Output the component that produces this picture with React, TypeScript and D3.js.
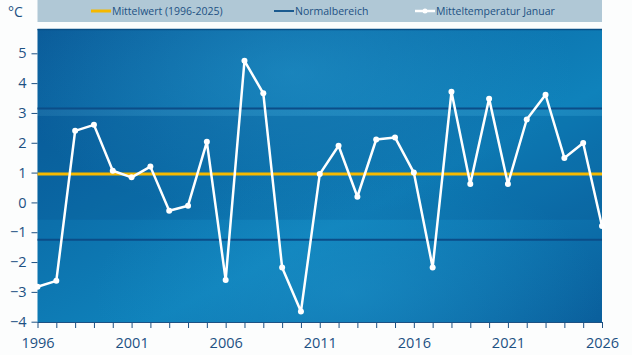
import React, { useRef, useEffect } from 'react';
import * as d3 from 'd3';

// Januar-Mitteltemperatur 1996-2026 (°C)
const years: number[] = d3.range(1996, 2027);
const tempJanuar: number[] = [
    -2.83, -2.63, 2.4, 2.6, 1.06, 0.84, 1.2, -0.28, -0.11, 2.03,
    -2.6, 4.75, 3.66, -2.18, -3.66, 0.95, 1.9, 0.19, 2.11, 2.18,
    1.0, -2.18, 3.71, 0.62, 3.48, 0.62, 2.78, 3.61, 1.49, 1.99,
    -0.79,
];
const mittelwert = 0.95;
const normalbereich: number[] = [3.15, -1.25];
const innerBand: number[] = [2.9, -0.58];
const yTicks: number[] = [-4, -3, -2, -1, 0, 1, 2, 3, 4, 5];
const xTickLabels: number[] = [1996, 2001, 2006, 2011, 2016, 2021, 2026];
const legendLabels: string[] = [
    'Mittelwert (1996-2025)',
    'Normalbereich',
    'Mitteltemperatur Januar',
];

const W = 632;
const H = 355;
const textColor = '#1d5183';

const App: React.FC = () => {
    const svgRef = useRef<SVGSVGElement | null>(null);

    useEffect(() => {
        if (!svgRef.current) return;
        const svg = d3.select(svgRef.current);
        svg.selectAll('*').remove();

        const left = 37.5;
        const right = 602;
        const top = 29;
        const bottom = 322;

        const x = d3.scaleLinear().domain([1996, 2026]).range([left, right]);
        const y = d3.scaleLinear().domain([-4, 5]).range([321.7, 53.3]);

        const defs = svg.append('defs');
        const lg = defs
            .append('linearGradient')
            .attr('id', 'bg')
            .attr('x1', '0')
            .attr('y1', '0')
            .attr('x2', '1')
            .attr('y2', '1');
        lg.append('stop').attr('offset', '0%').attr('stop-color', '#0a5a98');
        lg.append('stop').attr('offset', '35%').attr('stop-color', '#0c70ab');
        lg.append('stop').attr('offset', '60%').attr('stop-color', '#0f82bb');
        lg.append('stop').attr('offset', '100%').attr('stop-color', '#0a5f9c');

        const rg = defs
            .append('radialGradient')
            .attr('id', 'glow')
            .attr('cx', '0.45')
            .attr('cy', '0.15')
            .attr('r', '0.5');
        rg.append('stop')
            .attr('offset', '0%')
            .attr('stop-color', '#2aa0d4')
            .attr('stop-opacity', 0.45);
        rg.append('stop')
            .attr('offset', '100%')
            .attr('stop-color', '#2aa0d4')
            .attr('stop-opacity', 0);

        const rg2 = defs
            .append('radialGradient')
            .attr('id', 'glow2')
            .attr('cx', '0.55')
            .attr('cy', '0.9')
            .attr('r', '0.45');
        rg2.append('stop')
            .attr('offset', '0%')
            .attr('stop-color', '#1f95cc')
            .attr('stop-opacity', 0.5);
        rg2.append('stop')
            .attr('offset', '100%')
            .attr('stop-color', '#1f95cc')
            .attr('stop-opacity', 0);

        // legend box
        svg.append('rect')
            .attr('x', left)
            .attr('y', 0)
            .attr('width', right - left)
            .attr('height', 22)
            .attr('fill', '#b0c8d6');

        const legendX = [91, 274, 415];
        const legendSw = [
            { color: '#f5b800', w: 3, dot: false },
            { color: '#1a5a8f', w: 2, dot: false },
            { color: '#ffffff', w: 2.5, dot: true },
        ];
        legendLabels.forEach((lab, i) => {
            const g = svg.append('g');
            g.append('line')
                .attr('x1', legendX[i])
                .attr('x2', legendX[i] + 20)
                .attr('y1', 11)
                .attr('y2', 11)
                .attr('stroke', legendSw[i].color)
                .attr('stroke-width', legendSw[i].w);
            if (legendSw[i].dot) {
                g.append('circle')
                    .attr('cx', legendX[i] + 10)
                    .attr('cy', 11)
                    .attr('r', 2.5)
                    .attr('fill', '#fff');
            }
            g.append('text')
                .attr('x', legendX[i] + 21)
                .attr('y', 14.5)
                .attr('font-family', "'Open Sans', sans-serif")
                .attr('font-size', 10.5)
                .attr('fill', textColor)
                .text(lab);
        });

        svg.append('text')
            .attr('x', 8)
            .attr('y', 17)
            .attr('font-family', "'Open Sans', sans-serif")
            .attr('font-size', 14)
            .attr('fill', textColor)
            .text('°C');

        // plot background
        svg.append('rect')
            .attr('x', left)
            .attr('y', top)
            .attr('width', right - left)
            .attr('height', bottom - top)
            .attr('fill', 'url(#bg)');
        svg.append('rect')
            .attr('x', left)
            .attr('y', top)
            .attr('width', right - left)
            .attr('height', bottom - top)
            .attr('fill', 'url(#glow)');
        svg.append('rect')
            .attr('x', left)
            .attr('y', top)
            .attr('width', right - left)
            .attr('height', bottom - top)
            .attr('fill', 'url(#glow2)');
        svg.append('line')
            .attr('x1', left)
            .attr('x2', right)
            .attr('y1', top + 0.5)
            .attr('y2', top + 0.5)
            .attr('stroke', '#0a4f86')
            .attr('stroke-width', 1.5);

        // normal range shading
        svg.append('rect')
            .attr('x', left)
            .attr('y', y(normalbereich[0]))
            .attr('width', right - left)
            .attr('height', y(innerBand[0]) - y(normalbereich[0]))
            .attr('fill', '#ffffff')
            .attr('opacity', 0.05);
        svg.append('rect')
            .attr('x', left)
            .attr('y', y(innerBand[0]))
            .attr('width', right - left)
            .attr('height', y(innerBand[1]) - y(innerBand[0]))
            .attr('fill', '#003a78')
            .attr('opacity', 0.14);

        normalbereich.forEach((v) => {
            svg.append('line')
                .attr('x1', left)
                .attr('x2', right)
                .attr('y1', y(v))
                .attr('y2', y(v))
                .attr('stroke', '#0b4d88')
                .attr('stroke-width', 2);
        });

        svg.append('line')
            .attr('x1', left)
            .attr('x2', right)
            .attr('y1', y(mittelwert))
            .attr('y2', y(mittelwert))
            .attr('stroke', '#f6b900')
            .attr('stroke-width', 3);

        // axes
        const yAxis = svg
            .append('g')
            .attr('transform', `translate(${left},0)`)
            .call(
                d3
                    .axisLeft(y)
                    .tickValues(yTicks)
                    .tickSize(6)
                    .tickPadding(5)
                    .tickFormat(d3.format('d')),
            );
        yAxis.select('.domain').remove();
        yAxis.selectAll('line').attr('stroke', textColor);
        yAxis
            .selectAll('text')
            .attr('fill', textColor)
            .attr('font-size', 14.5)
            .attr('font-family', "'Open Sans', sans-serif");

        const xAxis = svg
            .append('g')
            .attr('transform', `translate(0,${bottom})`)
            .call(
                d3
                    .axisBottom(x)
                    .tickValues(years)
                    .tickSize(6)
                    .tickPadding(10)
                    .tickFormat((d) =>
                        xTickLabels.includes(d as number) ? String(d) : '',
                    ),
            );
        xAxis
            .select('.domain')
            .attr('stroke', textColor)
            .attr('d', `M${left},0.5H${right}`);
        xAxis.selectAll('line').attr('stroke', textColor);
        xAxis
            .selectAll('text')
            .attr('fill', textColor)
            .attr('font-size', 14.5)
            .attr('font-family', "'Open Sans', sans-serif");

        // temperature line
        const line = d3
            .line<number>()
            .x((_, i) => x(years[i]))
            .y((d) => y(d));
        svg.append('path')
            .datum(tempJanuar)
            .attr('d', line)
            .attr('fill', 'none')
            .attr('stroke', '#ffffff')
            .attr('stroke-width', 2.5)
            .attr('stroke-linejoin', 'round');
        svg.append('g')
            .selectAll('circle')
            .data(tempJanuar)
            .enter()
            .append('circle')
            .attr('cx', (_, i) => x(years[i]))
            .attr('cy', (d) => y(d))
            .attr('r', 3)
            .attr('fill', '#ffffff');
    }, []);

    return (
        <svg
            ref={svgRef}
            width={W}
            height={H}
            viewBox={`0 0 ${W} ${H}`}
            style={{ position: 'absolute', left: 0, top: 0, background: '#fcfdfd' }}
        ></svg>
    );
};

export default App;
